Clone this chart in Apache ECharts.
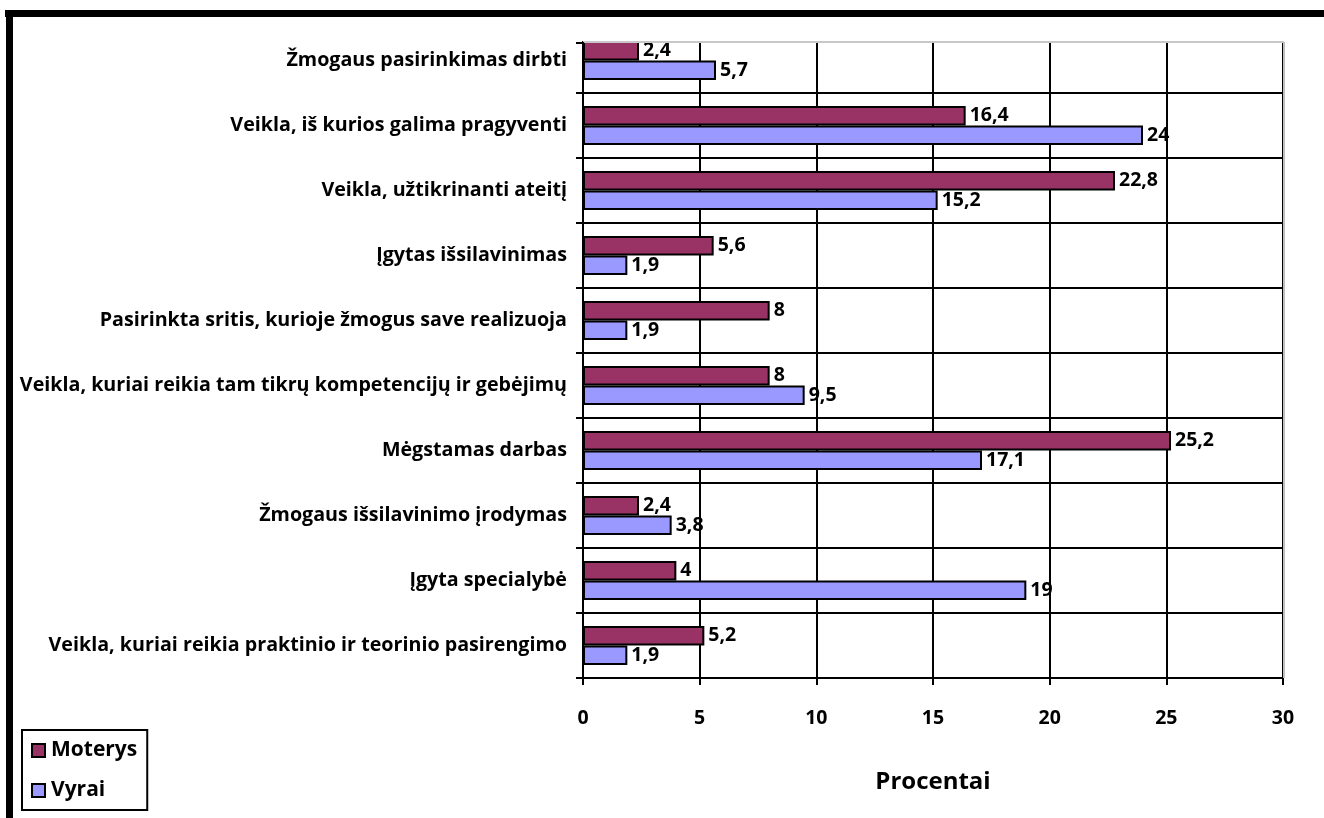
<!DOCTYPE html>
<html><head><meta charset="utf-8">
<script src="https://cdn.jsdelivr.net/npm/echarts@6/dist/echarts.min.js"></script>
<style>html,body{margin:0;padding:0;background:#fff}#c{width:1324px;height:818px}</style>
</head><body><div id="c"></div>
<script>
const categories = [
  'Žmogaus pasirinkimas dirbti',
  'Veikla, iš kurios galima pragyventi',
  'Veikla, užtikrinanti ateitį',
  'Įgytas išsilavinimas',
  'Pasirinkta sritis, kurioje žmogus save realizuoja',
  'Veikla, kuriai reikia tam tikrų kompetencijų ir gebėjimų',
  'Mėgstamas darbas',
  'Žmogaus išsilavinimo įrodymas',
  'Įgyta specialybė',
  'Veikla, kuriai reikia praktinio ir teorinio pasirengimo'
];
const moterys = [2.4, 16.4, 22.8, 5.6, 8, 8, 25.2, 2.4, 4, 5.2];
const vyrai = [5.7, 24, 15.2, 1.9, 1.9, 9.5, 17.1, 3.8, 19, 1.9];
const xTicks = [0, 5, 10, 15, 20, 25, 30];

const FONT = 'Open Sans';
const chart = echarts.init(document.getElementById('c'));
const lbl = {
  show: true, position: 'right', distance: 4,
  fontFamily: FONT, fontWeight: 'bold', fontSize: 19.5, color: '#000',
  formatter: p => String(p.value).replace('.', ',')
};
chart.setOption({
  animation: false,
  textStyle: { fontFamily: FONT },
  grid: { left: 583, right: 41, top: 28, bottom: 140, containLabel: false },
  xAxis: {
    type: 'value', min: xTicks[0], max: xTicks[xTicks.length - 1], interval: 5,
    name: 'Procentai', nameLocation: 'middle', nameGap: 92,
    nameTextStyle: { fontFamily: FONT, fontWeight: 'bold', fontSize: 24, color: '#000' },
    axisLine: { show: true, lineStyle: { color: '#000', width: 2 } },
    axisTick: { show: true, length: 7, lineStyle: { color: '#000', width: 2 } },
    axisLabel: { margin: 30, fontFamily: FONT, fontWeight: 'bold', fontSize: 19.5, color: '#000' },
    splitLine: { show: true, lineStyle: { color: '#000', width: 2 } }
  },
  yAxis: {
    type: 'category', data: categories, inverse: true,
    axisLine: { show: true, lineStyle: { color: '#000', width: 2 } },
    axisTick: { show: true, length: 7, lineStyle: { color: '#000', width: 2 } },
    axisLabel: { margin: 16, fontFamily: FONT, fontWeight: 'bold', fontSize: 19.7, color: '#000' },
    splitLine: { show: true, lineStyle: { color: '#000', width: 2 } }
  },
  legend: {
    orient: 'vertical', left: 22, top: 730,
    padding: [10, 10, 9, 9], itemGap: 19,
    borderColor: '#000', borderWidth: 2,
    itemWidth: 13, itemHeight: 13, icon: 'rect',
    textStyle: { fontFamily: FONT, fontWeight: 'bold', fontSize: 21, color: '#000', padding: [0, 0, 0, 1] },
    data: ['Moterys', 'Vyrai']
  },
  series: [
    { name: 'Moterys', type: 'bar', data: moterys, barGap: '0%', barCategoryGap: '40%',
      itemStyle: { color: '#993366', borderColor: '#000', borderWidth: 2 }, label: lbl },
    { name: 'Vyrai', type: 'bar', data: vyrai, barGap: '0%', barCategoryGap: '40%',
      itemStyle: { color: '#9999FF', borderColor: '#000', borderWidth: 2 }, label: lbl }
  ],
  graphic: [
    { type: 'rect', shape: { x: 560, y: 17, width: 760, height: 24 }, style: { fill: '#fff' }, z: 100 },
    { type: 'line', shape: { x1: 583, y1: 42, x2: 1284, y2: 42 }, style: { stroke: '#c8c8c8', lineWidth: 2 }, z: 101 },
    { type: 'line', shape: { x1: 1284, y1: 42, x2: 1284, y2: 678 }, style: { stroke: '#c0c0c0', lineWidth: 2 }, z: 1 },
    { type: 'line', shape: { x1: 576, y1: 43, x2: 583, y2: 43 }, style: { stroke: '#000', lineWidth: 2 }, z: 101 },
    { type: 'line', shape: { x1: 583, y1: 42, x2: 583, y2: 60 }, style: { stroke: '#000', lineWidth: 2 }, z: 101 },
    { type: 'rect', shape: { x: 5, y: 10, width: 1319, height: 7 }, style: { fill: '#000' }, z: 102 },
    { type: 'rect', shape: { x: 6, y: 10, width: 7, height: 808 }, style: { fill: '#000' }, z: 102 }
  ]
});
</script></body></html>
